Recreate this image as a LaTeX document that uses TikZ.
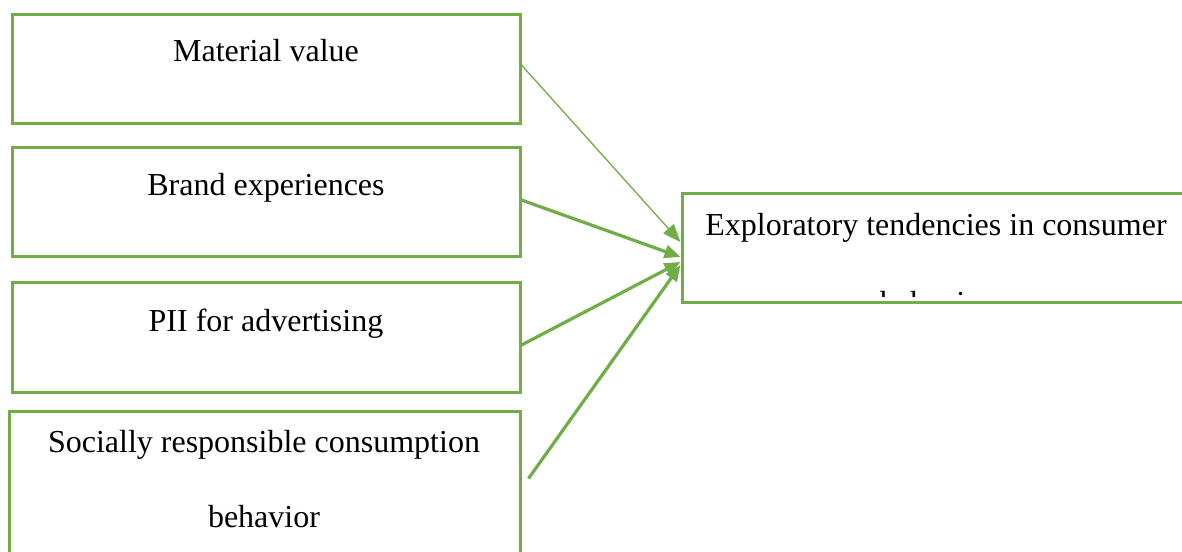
\documentclass[tikz,border=0pt]{standalone}
\usepackage{fontspec}
\setmainfont{Liberation Serif}
\usetikzlibrary{arrows.meta}
\definecolor{ogreen}{HTML}{70AD47}
\tikzset{
  boxnode/.style={draw=ogreen, line width=3pt, minimum width=508pt, inner sep=0pt},
  txt/.style={font=\fontsize{32}{38}\selectfont, inner sep=0pt, anchor=base, text=black},
  thinlink/.style={draw=ogreen, line width=1.3pt, -{Triangle[length=18pt,width=14pt]}},
  thicklink/.style={draw=ogreen, line width=3.2pt, -{Triangle[length=16pt,width=13pt]}}
}
\begin{document}
\begin{tikzpicture}[x=1pt,y=-1pt]
\useasboundingbox (0,0) rectangle (1182,551);
\fill[white] (0,0) rectangle (1182,551);
\clip (0,0) rectangle (1182,551);
% left boxes
\node[boxnode, minimum height=108pt] (b1) at (266,69) {};
\node[boxnode, minimum height=109pt] (b2) at (266,201.5) {};
\node[boxnode, minimum height=110pt] (b3) at (266,337) {};
\node[boxnode, minimum width=511pt, minimum height=190pt] (b4) at (264.5,506) {};
% target box
\node[boxnode, minimum height=109pt] (t) at (936,247.5) {};
% labels
\node[txt] (l1) at (266,62) {Material value};
\node[txt] (l2) at (266,195) {Brand experiences};
\node[txt] (l3) at (266,331) {PII for advertising};
\node[txt] (l4a) at (264,452) {Socially responsible consumption};
\node[txt] (l4b) at (264,527) {behavior};
\node[txt] (lt1) at (936,235) {Exploratory tendencies in consumer};
\begin{scope}
  \clip (682,193) rectangle (1190,296);
  \node[txt] (lt2) at (936,313) {behavior};
\end{scope}
% connectors
\coordinate (s4) at ([xshift=7pt,yshift=27.5pt]b4.east);
\draw[thinlink] ([yshift=4pt]b1.east) -- ([yshift=5.5pt]t.west);
\draw[thicklink] ([yshift=1.5pt]b2.east) -- ([yshift=-9.5pt]t.west);
\draw[thicklink] ([yshift=-8pt]b3.east) -- ([yshift=-14.5pt]t.west);
\draw[thicklink] (s4) -- ([yshift=-17.5pt]t.west);
\end{tikzpicture}
\end{document}
